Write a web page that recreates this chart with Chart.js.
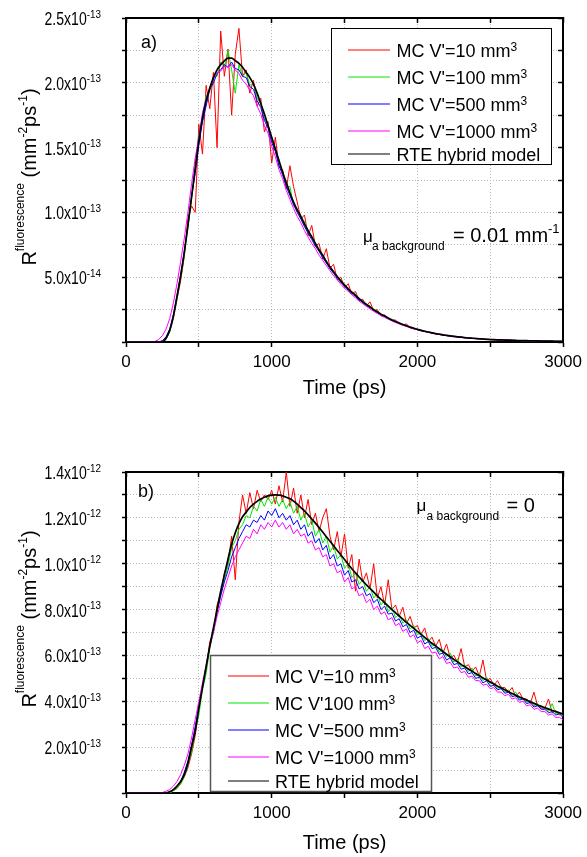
<!DOCTYPE html>
<html><head><meta charset="utf-8">
<script src="https://cdn.jsdelivr.net/npm/chart.js@4.4.1/dist/chart.umd.min.js"></script>
<style>
html,body{margin:0;padding:0;background:#fff;}
#wrap{position:relative;width:587px;height:857px;background:#fff;}
canvas{position:absolute;left:0;}
</style></head><body>
<div id="wrap">
<canvas id="c1" width="587" height="420" style="top:0px"></canvas>
<canvas id="c2" width="587" height="437" style="top:420px"></canvas>
</div>
<script>
const FONT = "'Liberation Sans', Arial, Helvetica, sans-serif";

// ---------- time axis (ps) ----------
const TIME_PS = [
0,25,50,75,100,125,150,175,200,225,
250,275,300,325,350,375,400,425,450,475,
500,525,550,575,600,625,650,675,700,725,
750,775,800,825,850,875,900,925,950,975,
1000,1025,1050,1075,1100,1125,1150,1175,1200,1225,
1250,1275,1300,1325,1350,1375,1400,1425,1450,1475,
1500,1525,1550,1575,1600,1625,1650,1675,1700,1725,
1750,1775,1800,1825,1850,1875,1900,1925,1950,1975,
2000,2025,2050,2075,2100,2125,2150,2175,2200,2225,
2250,2275,2300,2325,2350,2375,2400,2425,2450,2475,
2500,2525,2550,2575,2600,2625,2650,2675,2700,2725,
2750,2775,2800,2825,2850,2875,2900,2925,2950,2975,
3000];

const SERIES_LABELS_A = ["MC V'=10 mm³", "MC V'=100 mm³", "MC V'=500 mm³", "MC V'=1000 mm³", "RTE hybrid model"];
const SERIES_LABELS_B = ["MC V'=10 mm³", "MC V'100 mm³", "MC V'=500 mm³", "MC V'=1000 mm³", "RTE hybrid model"];

// ---------- panel a) values in units of 1e-13 mm^-2 ps^-1 ----------
const A_MC10 = [
0,0,0,0,0,0,0,0,0,0,
0.01,0.02,0.08,0.18,0.33,0.47,0.66,0.95,1.05,1.00,
1.68,1.45,1.98,1.80,2.08,1.50,2.40,2.05,2.26,1.75,
2.22,2.42,2.05,2.10,1.92,2.02,1.82,1.88,1.62,1.70,
1.38,1.58,1.35,1.33,1.18,1.36,1.20,1.08,0.95,0.98,
0.82,0.90,0.74,0.76,0.64,0.72,0.57,0.60,0.48,0.50,
0.42,0.45,0.37,0.39,0.32,0.33,0.28,0.31,0.24,0.25,
0.20,0.21,0.18,0.17,0.17,0.14,0.13,0.14,0.11,0.10,
0.10,0.088,0.085,0.075,0.072,0.062,0.063,0.053,0.052,0.045,
0.046,0.038,0.04,0.032,0.033,0.028,0.029,0.024,0.024,0.020,
0.021,0.017,0.018,0.015,0.016,0.013,0.014,0.011,0.012,0.010,
0.011,0.008,0.009,0.008,0.007,0.007,0.006,0.006,0.005,0.005,
0.005];
const A_MC100 = [
0,0,0,0,0,0,0,0,0,0,
0,0.02,0.08,0.19,0.33,0.50,0.67,0.88,1.10,1.35,
1.60,1.70,1.90,1.93,2.05,2.05,2.16,2.12,2.25,2.10,
1.92,2.14,2.05,2.08,1.98,2.00,1.88,1.84,1.72,1.68,
1.55,1.50,1.36,1.32,1.20,1.20,1.05,1.03,0.95,0.93,
0.84,0.82,0.74,0.72,0.66,0.63,0.57,0.55,0.50,0.48,
0.43,0.42,0.38,0.37,0.33,0.32,0.29,0.28,0.25,0.24,
0.21,0.205,0.185,0.175,0.155,0.15,0.133,0.128,0.113,0.108,
0.097,0.092,0.082,0.078,0.07,0.066,0.059,0.056,0.05,0.048,
0.042,0.041,0.036,0.035,0.03,0.03,0.026,0.026,0.022,0.022,
0.019,0.018,0.016,0.016,0.014,0.014,0.012,0.012,0.011,0.010,
0.010,0.009,0.008,0.008,0.007,0.007,0.006,0.006,0.005,0.005,
0.005];
const A_MC500 = [
0,0,0,0,0,0,0,0,0,0,
0.01,0.04,0.10,0.21,0.36,0.52,0.70,0.90,1.12,1.30,
1.52,1.70,1.82,1.95,2.00,2.07,2.10,2.14,2.12,2.16,
2.11,2.10,2.05,2.04,1.97,1.95,1.86,1.81,1.71,1.65,
1.54,1.47,1.36,1.29,1.20,1.13,1.06,1.00,0.95,0.89,
0.84,0.79,0.74,0.70,0.65,0.61,0.565,0.53,0.49,0.46,
0.43,0.40,0.375,0.35,0.325,0.305,0.28,0.265,0.243,0.228,
0.21,0.196,0.18,0.167,0.154,0.143,0.132,0.122,0.112,0.104,
0.095,0.088,0.081,0.075,0.069,0.064,0.058,0.054,0.049,0.046,
0.042,0.039,0.036,0.033,0.03,0.028,0.026,0.024,0.022,0.02,
0.019,0.018,0.017,0.016,0.015,0.014,0.013,0.012,0.011,0.010,
0.010,0.009,0.008,0.008,0.007,0.007,0.006,0.006,0.005,0.005,
0.005];
const A_MC1000 = [
0,0,0,0,0,0,0,0,0.005,0.02,
0.05,0.10,0.18,0.30,0.45,0.62,0.80,1.00,1.22,1.42,
1.58,1.77,1.88,1.96,2.03,2.08,2.09,2.13,2.12,2.14,
2.10,2.07,2.02,1.99,1.94,1.90,1.82,1.76,1.67,1.61,
1.51,1.43,1.33,1.26,1.17,1.10,1.03,0.97,0.92,0.86,
0.81,0.76,0.72,0.67,0.63,0.59,0.55,0.51,0.48,0.445,
0.415,0.39,0.365,0.34,0.315,0.295,0.275,0.255,0.237,0.22,
0.204,0.19,0.176,0.163,0.15,0.14,0.129,0.12,0.11,0.102,
0.094,0.087,0.08,0.074,0.068,0.063,0.058,0.053,0.049,0.045,
0.042,0.038,0.035,0.033,0.03,0.028,0.026,0.024,0.022,0.02,
0.019,0.018,0.017,0.016,0.015,0.014,0.013,0.012,0.011,0.010,
0.010,0.009,0.008,0.008,0.007,0.007,0.006,0.006,0.005,0.005,
0.005];
const A_RTE = [
0,0,0,0,0,0,0,0,0,0,
0,0.03,0.09,0.20,0.35,0.51,0.69,0.90,1.12,1.34,
1.55,1.73,1.86,1.96,2.04,2.10,2.14,2.17,2.19,2.19,
2.17,2.15,2.12,2.08,2.04,1.99,1.92,1.84,1.76,1.67,
1.58,1.49,1.40,1.31,1.23,1.15,1.08,1.02,0.97,0.91,
0.86,0.81,0.76,0.71,0.67,0.62,0.58,0.54,0.505,0.47,
0.44,0.41,0.385,0.36,0.335,0.31,0.29,0.27,0.25,0.232,
0.215,0.20,0.185,0.17,0.158,0.146,0.135,0.125,0.115,0.106,
0.098,0.09,0.083,0.077,0.071,0.065,0.06,0.055,0.051,0.047,
0.043,0.04,0.037,0.034,0.031,0.029,0.027,0.025,0.023,0.021,
0.019,0.018,0.017,0.016,0.015,0.014,0.013,0.012,0.011,0.010,
0.010,0.009,0.008,0.008,0.007,0.007,0.006,0.006,0.005,0.005,
0.005];

// ---------- panel b) values in units of 1e-12 mm^-2 ps^-1 ----------
const B_MC10 = [
0,0,0,0,0,0,0,0,0,0,
0,0,0,0.01,0.02,0.04,0.07,0.11,0.17,0.25,
0.36,0.47,0.54,0.66,0.70,0.82,0.87,0.96,1.00,1.12,
0.93,1.18,1.30,1.22,1.31,1.24,1.32,1.27,1.30,1.28,
1.32,1.26,1.34,1.27,1.40,1.25,1.33,1.22,1.30,1.20,
1.28,1.17,1.22,1.14,1.20,1.24,1.12,1.06,1.14,1.03,
1.13,0.98,1.04,0.88,1.02,0.92,0.96,0.89,1.00,0.85,
0.90,0.82,0.93,0.80,0.82,0.77,0.81,0.74,0.77,0.72,
0.73,0.69,0.72,0.66,0.68,0.64,0.67,0.61,0.65,0.59,
0.60,0.57,0.63,0.55,0.56,0.53,0.55,0.51,0.58,0.49,
0.50,0.47,0.49,0.46,0.46,0.44,0.46,0.42,0.44,0.41,
0.41,0.39,0.44,0.38,0.37,0.37,0.41,0.35,0.36,0.34,
0.35];
const B_MC100 = [
0,0,0,0,0,0,0,0,0,0,
0,0,0,0.01,0.02,0.04,0.07,0.12,0.18,0.27,
0.34,0.45,0.52,0.63,0.70,0.79,0.86,0.93,0.99,1.07,
1.10,1.15,1.17,1.21,1.20,1.25,1.23,1.28,1.25,1.29,
1.26,1.29,1.25,1.28,1.24,1.27,1.22,1.25,1.19,1.22,
1.16,1.19,1.12,1.15,1.09,1.12,1.05,1.08,1.02,1.04,
0.98,1.00,0.94,0.96,0.91,0.93,0.88,0.90,0.85,0.87,
0.82,0.84,0.79,0.81,0.765,0.78,0.74,0.755,0.715,0.73,
0.69,0.70,0.665,0.675,0.64,0.65,0.615,0.625,0.595,0.61,
0.57,0.585,0.55,0.56,0.53,0.545,0.51,0.52,0.49,0.505,
0.475,0.48,0.455,0.465,0.44,0.45,0.425,0.44,0.41,0.415,
0.395,0.405,0.38,0.39,0.37,0.375,0.355,0.39,0.345,0.35,
0.335];
const B_MC500 = [
0,0,0,0,0,0,0,0,0,0,
0,0,0.005,0.015,0.03,0.05,0.09,0.14,0.21,0.29,
0.38,0.47,0.55,0.64,0.71,0.79,0.86,0.92,0.97,1.03,
1.07,1.11,1.14,1.17,1.16,1.19,1.18,1.21,1.19,1.23,
1.21,1.24,1.20,1.22,1.19,1.21,1.17,1.19,1.15,1.17,
1.12,1.14,1.09,1.11,1.06,1.08,1.02,1.04,0.99,1.00,
0.95,0.97,0.92,0.93,0.89,0.90,0.86,0.87,0.83,0.845,
0.80,0.815,0.78,0.785,0.75,0.76,0.725,0.735,0.70,0.71,
0.675,0.685,0.65,0.66,0.63,0.635,0.605,0.61,0.58,0.59,
0.56,0.565,0.54,0.545,0.52,0.525,0.50,0.505,0.48,0.49,
0.465,0.47,0.45,0.455,0.435,0.44,0.42,0.425,0.405,0.41,
0.39,0.395,0.375,0.38,0.365,0.365,0.35,0.355,0.34,0.345,
0.33];
const B_MC1000 = [
0,0,0,0,0,0,0,0,0,0,
0.002,0.008,0.015,0.03,0.05,0.08,0.12,0.17,0.24,0.32,
0.40,0.48,0.56,0.64,0.70,0.77,0.83,0.89,0.94,0.99,
1.03,1.06,1.09,1.12,1.11,1.15,1.13,1.17,1.15,1.18,
1.16,1.19,1.16,1.18,1.15,1.17,1.13,1.15,1.12,1.13,
1.09,1.10,1.06,1.07,1.03,1.04,0.99,1.00,0.96,0.97,
0.92,0.94,0.89,0.90,0.86,0.87,0.83,0.845,0.80,0.815,
0.78,0.79,0.755,0.765,0.73,0.74,0.705,0.715,0.68,0.69,
0.655,0.665,0.63,0.64,0.61,0.615,0.585,0.595,0.565,0.57,
0.545,0.55,0.525,0.53,0.505,0.51,0.49,0.49,0.47,0.475,
0.455,0.46,0.44,0.44,0.425,0.43,0.41,0.415,0.395,0.40,
0.38,0.385,0.365,0.37,0.355,0.355,0.34,0.345,0.33,0.33,
0.32];
const B_RTE = [
0,0,0,0,0,0,0,0,0,0,
0,0,0.005,0.015,0.03,0.05,0.08,0.13,0.20,0.27,
0.37,0.46,0.55,0.64,0.72,0.80,0.88,0.95,1.02,1.085,
1.135,1.175,1.205,1.225,1.245,1.26,1.272,1.282,1.29,1.296,
1.299,1.300,1.299,1.296,1.29,1.283,1.273,1.26,1.245,1.23,
1.213,1.195,1.177,1.158,1.138,1.118,1.098,1.078,1.058,1.038,
1.018,0.998,0.978,0.96,0.942,0.925,0.908,0.892,0.876,0.86,
0.845,0.83,0.815,0.80,0.786,0.772,0.758,0.744,0.731,0.718,
0.705,0.692,0.679,0.666,0.653,0.641,0.629,0.617,0.605,0.594,
0.583,0.572,0.561,0.551,0.541,0.531,0.521,0.511,0.502,0.493,
0.484,0.475,0.466,0.458,0.45,0.442,0.434,0.426,0.419,0.412,
0.405,0.398,0.391,0.384,0.378,0.372,0.366,0.36,0.355,0.35,
0.345];

// ---------- tick labels ----------
const X_TICK_VALUES = [0, 1000, 2000, 3000];
const X_TICK_LABELS = ['0', '1000', '2000', '3000'];
const A_Y_TICK_VALUES = [0.5, 1.0, 1.5, 2.0, 2.5];
const A_Y_TICK_MANT = ['5.0x10', '1.0x10', '1.5x10', '2.0x10', '2.5x10'];
const A_Y_TICK_EXP = ['-14', '-13', '-13', '-13', '-13'];
const B_Y_TICK_VALUES = [0.2, 0.4, 0.6, 0.8, 1.0, 1.2, 1.4];
const B_Y_TICK_MANT = ['2.0x10', '4.0x10', '6.0x10', '8.0x10', '1.0x10', '1.2x10', '1.4x10'];
const B_Y_TICK_EXP = ['-13', '-13', '-13', '-13', '-12', '-12', '-12'];

const COLORS = ['#ff0000', '#00e800', '#0000ff', '#ff00ff', '#000000'];
const WIDTHS = [1, 1, 1, 1, 1.7];
const ORDERS = [4, 3, 2, 1, 0];

function labelFor(values, labels) {
  return v => {
    const k = values.findIndex(a => Math.abs(a - v) < 1e-6);
    return k >= 0 ? labels[k] : '';
  };
}

function richWidth(ctx, parts) {
  let w = 0;
  for (const p of parts) { ctx.font = p.size + 'px ' + FONT; w += ctx.measureText(p.t).width; }
  return w;
}
function drawRich(ctx, parts, x, y) {
  let cx = x;
  for (const p of parts) {
    ctx.font = p.size + 'px ' + FONT;
    ctx.fillText(p.t, cx, y - (p.rise || 0));
    cx += ctx.measureText(p.t).width;
  }
}

const decor = {
  id: 'decor',
  afterDraw(chart, args, o) {
    const ctx = chart.ctx;
    ctx.save();
    ctx.fillStyle = '#000';
    ctx.textBaseline = 'alphabetic';
    ctx.textAlign = 'left';
    // y tick labels (mantissa + superscript exponent), placed by the y scale
    const ys = chart.scales.y;
    const SX1 = 0.78, SX2 = 0.9;
    o.yTicks.values.forEach((v, i) => {
      const py = ys.getPixelForValue(v);
      ctx.font = '18px ' + FONT;
      const wm = ctx.measureText(o.yTicks.mant[i]).width * SX1;
      ctx.font = '11px ' + FONT;
      const we = ctx.measureText(o.yTicks.exp[i]).width * SX2;
      const x0 = o.yTicks.right - wm - we;
      ctx.save(); ctx.translate(x0, py + 7); ctx.scale(SX1, 1);
      ctx.font = '18px ' + FONT; ctx.fillText(o.yTicks.mant[i], 0, 0); ctx.restore();
      ctx.save(); ctx.translate(x0 + wm, py - 0.5); ctx.scale(SX2, 1);
      ctx.font = '11px ' + FONT; ctx.fillText(o.yTicks.exp[i], 0, 0); ctx.restore();
    });
    // y-axis title (rotated, with superscripts)
    const w = richWidth(ctx, o.yTitle);
    ctx.save();
    ctx.translate(o.yTitleX, o.yTitleCY);
    ctx.rotate(-Math.PI / 2);
    drawRich(ctx, o.yTitle, -w / 2, 0);
    ctx.restore();
    // annotations
    for (const t of o.texts) drawRich(ctx, t.parts, t.x, t.y);
    // legend box
    const lg = o.legend;
    ctx.fillStyle = '#fff';
    ctx.fillRect(lg.x, lg.y, lg.w, lg.h);
    ctx.strokeStyle = lg.border;
    ctx.lineWidth = lg.borderWidth;
    ctx.strokeRect(lg.x + 0.5, lg.y + 0.5, lg.w, lg.h);
    chart.data.datasets.forEach((ds, i) => {
      const y = lg.rows[i];
      ctx.strokeStyle = ds.borderColor;
      ctx.lineWidth = 1.2;
      ctx.beginPath(); ctx.moveTo(lg.lx1, y); ctx.lineTo(lg.lx2, y); ctx.stroke();
      ctx.fillStyle = '#000';
      const lab = ds.label;
      const parts = lab.endsWith('³')
        ? [{t: lab.slice(0, -1), size: 18}, {t: '3', size: 12, rise: 6}]
        : [{t: lab, size: 18}];
      drawRich(ctx, parts, lg.tx, y + 6.5);
    });
    ctx.restore();
  }
};

function makeChart(id, p) {
  const datasets = p.values.map((vals, i) => ({
    label: p.labels[i],
    data: TIME_PS.map((t, k) => ({x: t, y: vals[k]})),
    borderColor: COLORS[i],
    backgroundColor: COLORS[i],
    borderWidth: WIDTHS[i],
    pointRadius: 0,
    fill: false,
    tension: 0,
    cubicInterpolationMode: i === 4 ? 'monotone' : 'default',
    order: ORDERS[i]
  }));
  const gridCommon = {color: '#b8b8b8', lineWidth: 1, tickColor: '#000', tickWidth: 1.5};
  const borderCommon = {display: true, color: '#000', width: 2, dash: [1, 2]};
  return new Chart(document.getElementById(id), {
    type: 'line',
    data: {datasets},
    plugins: [decor],
    options: {
      responsive: false, animation: false, devicePixelRatio: 1, events: [],
      layout: {padding: {left: 0, top: p.padTop, right: 23, bottom: 0}},
      plugins: {legend: {display: false}, tooltip: {enabled: false}, decor: p.decor},
      scales: {
        x: {
          type: 'linear', position: 'bottom', min: 0, max: 3000,
          ticks: {stepSize: 500, autoSkip: false, maxRotation: 0, padding: 5, color: '#000',
                  font: {family: FONT, size: 17}, callback: labelFor(X_TICK_VALUES, X_TICK_LABELS)},
          grid: Object.assign({drawTicks: true, tickLength: 5}, gridCommon),
          border: borderCommon,
          title: {display: true, text: 'Time (ps)', color: '#000', font: {family: FONT, size: 20},
                  padding: {top: 0, bottom: p.xTitlePad}},
          afterFit: s => { s.height = p.xAxisH; }
        },
        x2: {
          type: 'linear', position: 'top', min: 0, max: 3000,
          ticks: {stepSize: 500, display: false},
          grid: Object.assign({drawOnChartArea: false, drawTicks: true, tickLength: -5}, gridCommon),
          border: {display: true, color: '#000', width: 2},
          afterFit: s => { s.height = 0; }
        },
        y: {
          type: 'linear', position: 'left', min: 0, max: p.yMax,
          ticks: {stepSize: p.yStep, autoSkip: false, display: false},
          grid: Object.assign({drawTicks: true, tickLength: 4}, gridCommon),
          border: borderCommon,
          afterFit: s => { s.width = 126; }
        },
        y2: {
          type: 'linear', position: 'right', min: 0, max: p.yMax,
          ticks: {stepSize: p.yStep, display: false},
          grid: Object.assign({drawOnChartArea: false, drawTicks: true, tickLength: -5}, gridCommon),
          border: {display: true, color: '#000', width: 2},
          afterFit: s => { s.width = 0; }
        }
      }
    }
  });
}

const Y_TITLE = [
  {t: 'R', size: 20},
  {t: 'fluorescence', size: 12, rise: 12},
  {t: ' (mm', size: 20},
  {t: '-2', size: 12, rise: 9},
  {t: 'ps', size: 20},
  {t: '-1', size: 12, rise: 9},
  {t: ')', size: 20}
];

makeChart('c1', {
  values: [A_MC10, A_MC100, A_MC500, A_MC1000, A_RTE],
  labels: SERIES_LABELS_A,
  yMax: 2.5, yStep: 0.25,
  padTop: 18, xAxisH: 78, xTitlePad: 20,
  decor: {
    yTicks: {values: A_Y_TICK_VALUES, mant: A_Y_TICK_MANT, exp: A_Y_TICK_EXP, right: 101},
    yTitle: Y_TITLE, yTitleX: 36, yTitleCY: 177,
    texts: [
      {x: 141, y: 48, parts: [{t: 'a)', size: 18}]},
      {x: 363, y: 242, parts: [{t: 'μ', size: 17}]},
      {x: 372, y: 250, parts: [{t: 'a background', size: 12}]},
      {x: 453, y: 242, parts: [{t: '= 0.01 mm', size: 20}, {t: '-1', size: 13, rise: 9}]}
    ],
    legend: {x: 331, y: 28, w: 220, h: 136, border: '#000', borderWidth: 1,
             rows: [50, 77, 104, 131, 154], lx1: 348, lx2: 390, tx: 396.5}
  }
});

makeChart('c2', {
  values: [B_MC10, B_MC100, B_MC500, B_MC1000, B_RTE],
  labels: SERIES_LABELS_B,
  yMax: 1.4, yStep: 0.1,
  padTop: 52, xAxisH: 64, xTitlePad: 2,
  decor: {
    yTicks: {values: B_Y_TICK_VALUES, mant: B_Y_TICK_MANT, exp: B_Y_TICK_EXP, right: 101},
    yTitle: Y_TITLE, yTitleX: 36, yTitleCY: 199,
    texts: [
      {x: 138, y: 77, parts: [{t: 'b)', size: 18}]},
      {x: 416.5, y: 91, parts: [{t: 'μ', size: 17}]},
      {x: 426.5, y: 100, parts: [{t: 'a background', size: 12}]},
      {x: 506.5, y: 91.5, parts: [{t: '= 0', size: 20}]}
    ],
    legend: {x: 210, y: 235, w: 221, h: 136, border: '#555', borderWidth: 1.5,
             rows: [256, 283, 310, 337, 361], lx1: 228, lx2: 269, tx: 275}
  }
});
</script>
</body></html>
